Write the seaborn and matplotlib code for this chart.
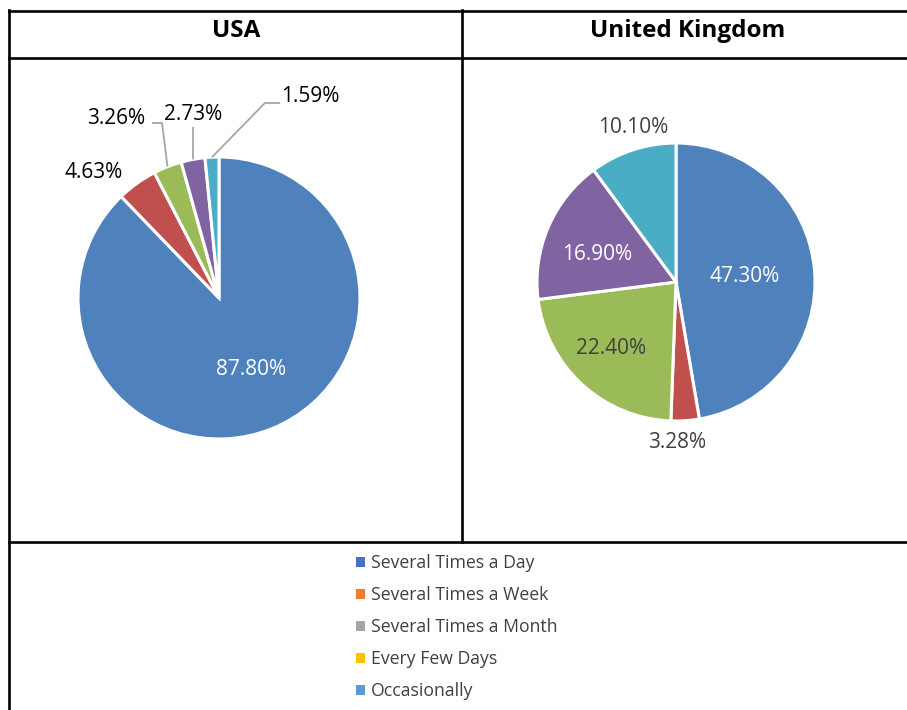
import numpy as np
import matplotlib
matplotlib.use("Agg")
import matplotlib.pyplot as plt
from matplotlib.lines import Line2D
from matplotlib.patches import Patch
import seaborn as sns

# ---------------- data ----------------
categories = ["Several Times a Day", "Several Times a Week", "Several Times a Month",
              "Every Few Days", "Occasionally"]
usa_values = [87.80, 4.63, 3.26, 2.73, 1.59]
uk_values = [47.30, 3.28, 22.40, 16.90, 10.10]
panel_titles = ["USA", "United Kingdom"]

# ---------------- styles ----------------
sns.set_theme(style="white")
plt.rcParams["font.family"] = ["Open Sans", "DejaVu Sans"]

pie_colors = sns.color_palette(["#4F81BD", "#C0504D", "#9BBB59", "#8064A2", "#4BACC6"])
legend_colors = sns.color_palette(["#4472C4", "#ED7D31", "#A5A5A5", "#FFC000", "#5B9BD5"])

W, H = 907, 710
fig = plt.figure(figsize=(W / 100, H / 100), dpi=100)

def fx(px):
    return px / W

def fy(py):
    return 1 - py / H

# table borders
lw_border = 1.9
for (x0, y0, x1, y1) in [(9, 10.5, W, 10.5), (9, 57.5, W, 57.5), (9, 541.5, W, 541.5),
                         (9, 10, 9, H), (462, 10, 462, 541.5)]:
    fig.add_artist(Line2D([fx(x0), fx(x1)], [fy(y0), fy(y1)], color="black",
                          lw=lw_border, transform=fig.transFigure, solid_capstyle="projecting"))

# headers
fig.text(fx(236), fy(31), panel_titles[0], ha="center", va="center",
         fontsize=17.5, fontweight="bold", color="black")
fig.text(fx(688), fy(31), panel_titles[1], ha="center", va="center",
         fontsize=17.5, fontweight="bold", color="black")

LIM = 1.1

def make_pie(cx, cy, R, values, label_xy, label_colors, leaders):
    size = 2 * LIM * R
    ax = fig.add_axes([fx(cx - LIM * R), fy(cy + LIM * R), size / W, size / H])
    wedges, _ = ax.pie(values, colors=pie_colors, startangle=90, counterclock=False,
                       wedgeprops=dict(edgecolor="white", linewidth=2.2))
    ax.set_xlim(-LIM, LIM)
    ax.set_ylim(-LIM, LIM)
    ax.set_aspect("equal")
    ax.axis("off")
    for i, (v, (lx, ly), c) in enumerate(zip(values, label_xy, label_colors)):
        ax.text(lx, ly, f"{v:.2f}%", ha="center", va="center", fontsize=15, color=c)
        if i in leaders:
            w = wedges[i]
            mid = np.deg2rad((w.theta1 + w.theta2) / 2)
            pts = leaders[i] + [(np.cos(mid) * 1.0, np.sin(mid) * 1.0)]
            xs, ys = zip(*pts)
            ax.plot(xs, ys, color="#A6A6A6", lw=1.3, solid_capstyle="butt", clip_on=False)
    return ax

usa_label_xy = [(0.227, -0.51), (-0.89, 0.89), (-0.73, 1.27), (-0.184, 1.30), (0.65, 1.43)]
usa_label_colors = ["white", "black", "black", "black", "black"]
usa_leaders = {2: [(-0.475, 1.241), (-0.404, 1.241)],
               3: [(-0.184, 1.213)],
               4: [(0.433, 1.383), (0.326, 1.383)]}
make_pie(219, 298, 141, usa_values, usa_label_xy, usa_label_colors, usa_leaders)

uk_label_xy = [(0.496, 0.043), (0.007, -1.158), (-0.468, -0.475), (-0.568, 0.2), (-0.309, 1.115)]
uk_label_colors = ["white", "#404040", "#404040", "white", "#404040"]
make_pie(676, 282, 139, uk_values, uk_label_xy, uk_label_colors, {})

# legend
handles = [Patch(facecolor=c, edgecolor="none") for c in legend_colors]
fig.legend(handles, categories, loc="upper left", bbox_to_anchor=(fx(356), fy(554)),
           frameon=False, fontsize=12.7, handlelength=0.5, handleheight=0.5,
           handletextpad=0.35, labelspacing=0.8, labelcolor="#404040", borderpad=0,
           borderaxespad=0)

fig.savefig("out.png", dpi=100)
